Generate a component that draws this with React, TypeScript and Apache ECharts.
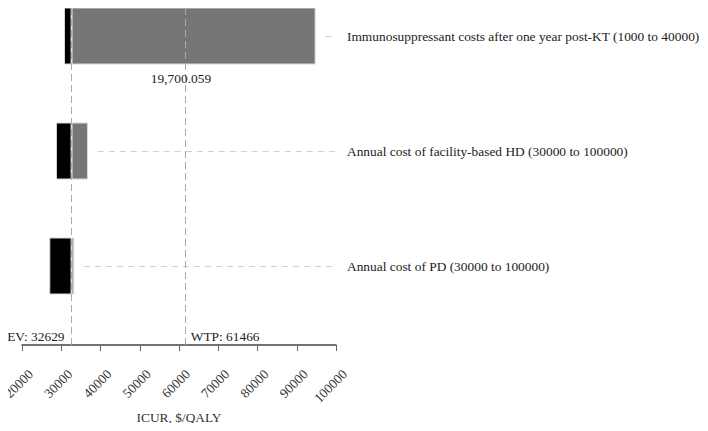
import React, { useEffect, useRef } from "react";
import * as echarts from "echarts";

const categories = [
  "Immunosuppressant costs after one year post-KT (1000 to 40000)",
  "Annual cost of facility-based HD (30000 to 100000)",
  "Annual cost of PD (30000 to 100000)",
];
const lows = [30700, 28650, 26950];
const highs = [94800, 36800, 33300];
const EV = 32629;
const WTP = 61466;
const annotationText = "19,700.059";
const annotationX = 60500;
const xTicks = { min: 20000, max: 100000, interval: 10000 };

const FONT = "'Liberation Serif', 'Times New Roman', serif";
const FS = 13.4;

export default function App() {
  const ref = useRef<HTMLDivElement>(null);
  useEffect(() => {
    if (!ref.current) return;
    const chart = echarts.init(ref.current, undefined, { renderer: "svg" });
    const blackVals = lows.map((l) => EV - l);
    const grayVals = highs.map((h) => h - EV);
    const option: any = {
      animation: false,
      textStyle: { fontFamily: FONT },
      grid: [
        { left: 22, width: 314, top: -21.5, height: 345, outerBoundsMode: "none", containLabel: false },
        { left: 22, width: 314, top: 0, height: 345, outerBoundsMode: "none", containLabel: false },
      ],
      xAxis: [
        { gridIndex: 0, type: "value", min: xTicks.min, max: xTicks.max, show: false },
        {
          gridIndex: 1,
          type: "value",
          position: "bottom",
          min: xTicks.min,
          max: xTicks.max,
          interval: xTicks.interval,
          offset: 6,
          axisLine: { show: true, lineStyle: { color: "#444", width: 1.5 } },
          axisTick: { show: true, length: 6, lineStyle: { color: "#666" } },
          axisLabel: {
            rotate: 45,
            margin: 12,
            align: "right",
            verticalAlign: "top",
            padding: [6, 0, 0, 0],
            color: "#333",
            fontSize: FS,
            fontFamily: FONT,
            formatter: (v: number) => String(v),
          },
          splitLine: { show: false },
          name: "ICUR, $/QALY",
          nameLocation: "middle",
          nameGap: 66,
          nameMoveOverlap: false,
          nameTextStyle: { color: "#333", fontSize: FS, fontFamily: FONT, verticalAlign: "middle" },
        },
        {
          gridIndex: 1,
          type: "value",
          position: "bottom",
          min: xTicks.min,
          max: xTicks.max,
          interval: xTicks.interval,
          offset: 6,
          axisLine: { show: false },
          axisTick: { show: true, inside: true, length: 6, lineStyle: { color: "#666" } },
          axisLabel: { show: false },
          splitLine: { show: false },
        },
      ],
      yAxis: [
        {
          gridIndex: 0,
          type: "category",
          data: categories,
          inverse: true,
          position: "right",
          axisLine: { show: false },
          axisTick: { show: false },
          splitLine: { show: false },
          axisLabel: { margin: 11, color: "#222", fontSize: 13.4, fontFamily: FONT },
        },
        { gridIndex: 1, type: "value", min: 0, max: 1, show: false },
      ],
      series: [
        {
          type: "bar",
          xAxisIndex: 0,
          yAxisIndex: 0,
          stack: "t",
          data: lows,
          barWidth: 57,
          itemStyle: { color: "transparent" },
          silent: true,
          markLine: {
            symbol: "none",
            silent: true,
            label: { show: false },
            lineStyle: { color: "#d0d0d0", type: [6, 5], width: 1 },
            data: categories.map((c, i) => [
              { coord: [highs[i] + 2500, c] },
              { coord: [xTicks.max, c] },
            ]),
          },
          markPoint: {
            symbol: "circle",
            symbolSize: 0,
            data: [
              {
                coord: [annotationX, categories[0]],
                label: {
                  show: true,
                  formatter: annotationText,
                  position: "inside",
                  offset: [0, 42],
                  color: "#222",
                  fontSize: FS,
                  fontFamily: FONT,
                },
              },
            ],
          },
        },
        {
          type: "bar",
          xAxisIndex: 0,
          yAxisIndex: 0,
          stack: "t",
          data: blackVals,
          barWidth: 57,
          itemStyle: { color: "#000", borderColor: "#d8d8d8", borderWidth: 1 },
        },
        {
          type: "bar",
          xAxisIndex: 0,
          yAxisIndex: 0,
          stack: "t",
          data: grayVals,
          barWidth: 57,
          itemStyle: { color: "#767676", borderColor: "#d8d8d8", borderWidth: 1 },
        },
        {
          type: "scatter",
          xAxisIndex: 1,
          yAxisIndex: 1,
          data: [],
          markLine: {
            symbol: "none",
            silent: true,
            label: { show: false },
            lineStyle: { color: "#aaa", type: [7, 4], width: 1 },
            data: [{ xAxis: EV }, { xAxis: WTP }],
          },
          markPoint: {
            symbol: "circle",
            symbolSize: 0,
            data: [
              {
                coord: [EV, 0.026],
                label: {
                  show: true,
                  formatter: "EV: " + EV,
                  position: "left",
                  distance: 7,
                  color: "#222",
                  fontSize: FS,
                  fontFamily: FONT,
                },
              },
              {
                coord: [WTP, 0.026],
                label: {
                  show: true,
                  formatter: "WTP: " + WTP,
                  position: "right",
                  distance: 6,
                  color: "#222",
                  fontSize: FS,
                  fontFamily: FONT,
                },
              },
            ],
          },
        },
      ],
    };
    chart.setOption(option);
    return () => chart.dispose();
  }, []);
  return <div ref={ref} style={{ width: 708, height: 431, margin: -8 }} />;
}
